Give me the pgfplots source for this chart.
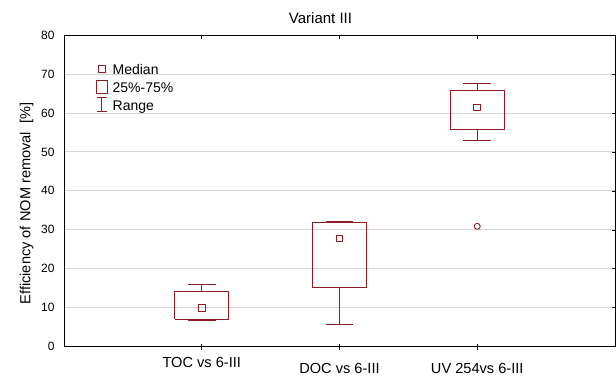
\documentclass[border=0pt]{standalone}
\usepackage{fontspec}
\setmainfont{Liberation Sans}
\usepackage{pgfplots}
\pgfplotsset{compat=1.18}
\definecolor{boxred}{RGB}{140,30,35}
\definecolor{gridgray}{RGB}{212,212,212}
\begin{document}
\begin{tikzpicture}
\begin{axis}[
  at={(0,0)}, anchor=south west,
  scale only axis, width=551pt, height=311.7pt,
  xmin=0, xmax=4, ymin=0, ymax=80,
  xtick={1,2,3},
  xticklabels={\raisebox{6pt}{TOC vs 6-III}, DOC vs 6-III, UV 254vs 6-III},
  ytick={0,10,...,80},
  xtick pos=bottom, ytick pos=right, yticklabel pos=left,
  tick align=center, major tick length=6pt,
  tick style={black, line width=0.6pt},
  axis line style={black, line width=0.8pt},
  ymajorgrids, grid style={gridgray, line width=0.8pt},
  /pgf/number format/assume math mode=true,
  x tick label style={font=\fontsize{14.6}{17}\selectfont, anchor=base, yshift=-24pt},
  y tick label style={font=\fontsize{12}{14}\selectfont, xshift=-3pt},
  unbounded coords=jump,
  legend style={draw=none, fill=none, at={(0.058,0.905)}, anchor=north west,
    font=\fontsize{14}{16}\selectfont, inner sep=0pt, row sep=2pt, column sep=5pt,
    nodes={inner sep=0pt, text height=10pt, text depth=3pt}},
  legend cell align=left,
]
\addlegendimage{legend image code/.code={
  \path (-5.3pt,0) (5.3pt,0);
  \draw[draw=boxred, line width=0.9pt] (-3.4pt,-1.3pt) rectangle (3.4pt,5.5pt);}}
\addlegendentry{Median}
\addlegendimage{legend image code/.code={
  \path (-5.3pt,0) (5.3pt,0);
  \draw[draw=boxred, line width=0.9pt] (-5.3pt,-4.5pt) rectangle (5.3pt,8.5pt);}}
\addlegendentry{25\%-75\%}
\addlegendimage{legend image code/.code={
  \path (-5.3pt,0) (5.3pt,0);
  \draw[draw=boxred, line width=0.9pt] (-5.3pt,9pt) -- (5.3pt,9pt) (0,9pt) -- (0,-5pt) (-5.3pt,-5pt) -- (5.3pt,-5pt);}}
\addlegendentry{Range}

% TOC vs 6-III: boxes (25%-75%) and whiskers (range)
\addplot[boxred, line width=0.9pt, forget plot] coordinates {
  (0.805,7.1) (1.195,7.1) (1.195,14.1) (0.805,14.1) (0.805,7.1)};
\addplot[boxred, line width=0.9pt, forget plot] coordinates {
  (1,14.1) (1,16.0) (1,nan) (0.9,16.0) (1.1,16.0) (1,nan)
  (1,7.1) (1,6.85) (1,nan) (0.9,6.85) (1.1,6.85)};
% DOC vs 6-III
\addplot[boxred, line width=0.9pt, forget plot] coordinates {
  (1.805,15.1) (2.195,15.1) (2.195,31.8) (1.805,31.8) (1.805,15.1)};
\addplot[boxred, line width=0.9pt, forget plot] coordinates {
  (2,31.8) (2,32.2) (2,nan) (1.9,32.2) (2.1,32.2) (2,nan)
  (2,15.1) (2,5.83) (2,nan) (1.9,5.83) (2.1,5.83)};
% UV 254 vs 6-III
\addplot[boxred, line width=0.9pt, forget plot] coordinates {
  (2.805,55.8) (3.195,55.8) (3.195,65.8) (2.805,65.8) (2.805,55.8)};
\addplot[boxred, line width=0.9pt, forget plot] coordinates {
  (3,65.8) (3,67.5) (3,nan) (2.9,67.5) (3.1,67.5) (3,nan)
  (3,55.8) (3,52.9) (3,nan) (2.9,52.9) (3.1,52.9)};
% medians
\addplot[boxred, only marks, mark=square, mark size=3.4pt, line width=0.9pt, forget plot]
  coordinates {(1,10.0) (2,27.8) (3,61.4)};
% outlier
\addplot[boxred, only marks, mark=o, mark size=3pt, line width=0.9pt, forget plot]
  coordinates {(3,30.9)};
\end{axis}
\begin{axis}[
  at={(0,0)}, anchor=south west,
  scale only axis, width=551pt, height=311.7pt,
  xmin=0, xmax=4, ymin=0, ymax=80,
  xtick={1,2,3}, xticklabels={}, ytick=\empty,
  xtick pos=top, tick align=inside, major tick length=3.5pt,
  tick style={black, line width=0.6pt},
  axis line style={draw=none},
]
\end{axis}
\node[font=\fontsize{15}{17}\selectfont, anchor=base] at (256.5pt,322.7pt) {Variant III};
\node[font=\fontsize{14.6}{17}\selectfont, rotate=90] at (-37.5pt,143.2pt) {Efficiency of NOM removal\ \ [\%]};
\pgfresetboundingbox
\useasboundingbox (-64pt,-31.3pt) rectangle (552pt,346.7pt);
\end{tikzpicture}
\end{document}
